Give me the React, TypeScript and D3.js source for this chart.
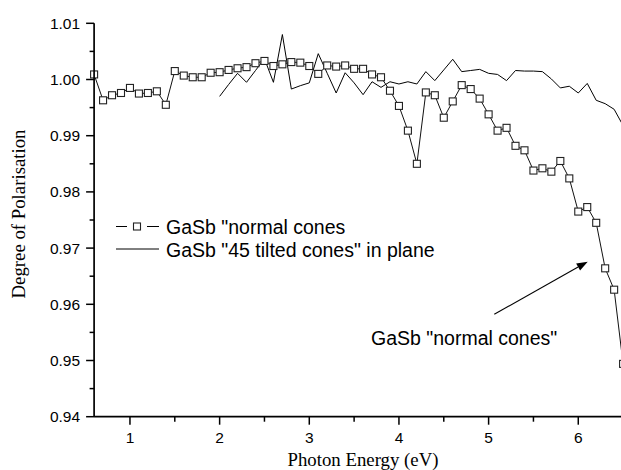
import React from "react";
import * as d3 from "d3";

const normalEnergy = [
  0.6, 0.7, 0.8, 0.9, 1.0, 1.1, 1.2, 1.3, 1.4, 1.5, 1.6, 1.7, 1.8, 1.9, 2.0, 2.1, 2.2, 2.3, 2.4, 2.5,
  2.6, 2.7, 2.8, 2.9, 3.0, 3.1, 3.2, 3.3, 3.4, 3.5, 3.6, 3.7, 3.8, 3.9, 4.0, 4.1, 4.2, 4.3, 4.4, 4.5,
  4.6, 4.7, 4.8, 4.9, 5.0, 5.1, 5.2, 5.3, 5.4, 5.5, 5.6, 5.7, 5.8, 5.9, 6.0, 6.1, 6.2, 6.3, 6.4, 6.5,
];
const normalCones = [
  1.0009, 0.9963, 0.9972, 0.9976, 0.9985, 0.9975, 0.9976, 0.9979, 0.9955, 1.0015,
  1.0007, 1.0004, 1.0004, 1.0012, 1.0013, 1.0017, 1.002, 1.0022, 1.0029, 1.0033,
  1.0024, 1.0027, 1.0031, 1.003, 1.0024, 1.001, 1.0025, 1.0023, 1.0025, 1.0019,
  1.0019, 1.0009, 1.0004, 0.998, 0.9953, 0.9909, 0.985, 0.9977, 0.9972, 0.9932,
  0.9961, 0.999, 0.9983, 0.9966, 0.9938, 0.9909, 0.9914, 0.9882, 0.9874, 0.9838,
  0.9842, 0.9836, 0.9855, 0.9824, 0.9765, 0.9773, 0.9745, 0.9664, 0.9626, 0.9494,
];

const tiltedEnergy = [
  2.0, 2.1, 2.2, 2.3, 2.4, 2.5, 2.6, 2.7, 2.8, 2.9, 3.0, 3.1, 3.2, 3.3, 3.4, 3.5, 3.6, 3.7, 3.8, 3.9,
  4.0, 4.1, 4.2, 4.3, 4.4, 4.5, 4.6, 4.7, 4.8, 4.9, 5.0, 5.1, 5.2, 5.3, 5.4, 5.5, 5.6, 5.7, 5.8, 5.9,
  6.0, 6.1, 6.2, 6.3, 6.4, 6.5,
];
const tiltedCones = [
  0.997, 0.9991, 1.0011, 0.9995, 1.0016, 1.0037, 0.9995, 1.008, 0.9983, 0.9989,
  0.9994, 1.0046, 1.0011, 0.9976, 1.0012, 0.9994, 0.9973, 0.9996, 0.9986, 0.9996,
  0.9992, 0.9996, 0.9992, 1.0014, 0.9998, 1.0017, 1.0036, 1.0014, 1.0016, 1.0018,
  1.0011, 1.0009, 0.9998, 1.0016, 1.0015, 1.0015, 1.0014, 1.0001, 0.9985, 0.9988,
  0.9976, 0.9993, 0.9963, 0.9957, 0.9947, 0.9918,
];

const xMajorTicks = [1, 2, 3, 4, 5, 6];
const xMinorTicks = [1.5, 2.5, 3.5, 4.5, 5.5];
const yMajorTicks = [0.94, 0.95, 0.96, 0.97, 0.98, 0.99, 1.0, 1.01];
const yMinorTicks = [0.945, 0.955, 0.965, 0.975, 0.985, 0.995, 1.005];

const legendLabels = ['GaSb "normal cones', 'GaSb "45 tilted cones" in plane'];
const annotationLabel = 'GaSb "normal cones"';
const xTitle = "Photon Energy (eV)";
const yTitle = "Degree of Polarisation";

const W = 621;
const H = 470;

export default function App() {
  const x = d3.scaleLinear().domain([0.6, 6.5]).range([94.1, 623.1]);
  const y = d3.scaleLinear().domain([0.94, 1.01]).range([416.7, 23.3]);

  const normalPts = normalEnergy.map((e, i) => [x(e), y(normalCones[i])] as [number, number]);
  const tiltedPts = tiltedEnergy.map((e, i) => [x(e), y(tiltedCones[i])] as [number, number]);
  const line = d3.line();

  const sans = "'Liberation Sans', Arial, sans-serif";
  const serif = "'Liberation Serif', 'Times New Roman', serif";
  const x0 = x(0.6);
  const yb = y(0.94);
  const sq = 7;

  const arrowFrom = [494.3, 314.3];
  const arrowTo = [587.7, 261.7];
  const ang = Math.atan2(arrowTo[1] - arrowFrom[1], arrowTo[0] - arrowFrom[0]);
  const ah = 11;
  const aw = 4;
  const bx = arrowTo[0] - ah * Math.cos(ang);
  const by = arrowTo[1] - ah * Math.sin(ang);
  const headPts = [
    [arrowTo[0], arrowTo[1]],
    [bx + aw * Math.sin(ang), by - aw * Math.cos(ang)],
    [bx - aw * Math.sin(ang), by + aw * Math.cos(ang)],
  ];

  return (
    <svg
      width={W}
      height={H}
      style={{ position: "absolute", left: 0, top: 0, display: "block", background: "#fff" }}
    >
      <rect x={0} y={0} width={W} height={H} fill="#fff" />
      <path d={line(tiltedPts) || ""} fill="none" stroke="#000" strokeWidth={1} />
      <path d={line(normalPts) || ""} fill="none" stroke="#111" strokeWidth={1} />
      {normalPts.map((p, i) => (
        <rect
          key={i}
          x={p[0] - sq / 2}
          y={p[1] - sq / 2}
          width={sq}
          height={sq}
          fill="#fff"
          stroke="#222"
          strokeWidth={1.1}
        />
      ))}

      <line x1={x0} y1={y(1.01)} x2={x0} y2={yb} stroke="#000" strokeWidth={1.7} />
      <line x1={x0} y1={yb} x2={W + 5} y2={yb} stroke="#000" strokeWidth={1.7} />
      {yMajorTicks.map((t) => (
        <g key={"ym" + t}>
          <line x1={x0 - 8} x2={x0} y1={y(t)} y2={y(t)} stroke="#000" strokeWidth={1.5} />
          <text x={x0 - 14} y={y(t) + 5.5} textAnchor="end" fontFamily={sans} fontSize={15.5} fill="#000">
            {t.toFixed(2)}
          </text>
        </g>
      ))}
      {yMinorTicks.map((t) => (
        <line key={"yn" + t} x1={x0 - 4.5} x2={x0} y1={y(t)} y2={y(t)} stroke="#000" strokeWidth={1.5} />
      ))}
      {xMajorTicks.map((t) => (
        <g key={"xm" + t}>
          <line x1={x(t)} x2={x(t)} y1={yb} y2={yb + 8} stroke="#000" strokeWidth={1.5} />
          <text x={x(t)} y={yb + 26} textAnchor="middle" fontFamily={sans} fontSize={15.5} fill="#000">
            {t}
          </text>
        </g>
      ))}
      {xMinorTicks.map((t) => (
        <line key={"xn" + t} x1={x(t)} x2={x(t)} y1={yb} y2={yb + 5} stroke="#000" strokeWidth={1.5} />
      ))}

      <text x={363} y={466} textAnchor="middle" fontFamily={serif} fontSize={18.8} fill="#000">
        {xTitle}
      </text>
      <text
        transform={`translate(25, 214) rotate(-90)`}
        textAnchor="middle"
        fontFamily={serif}
        fontSize={18.8}
        fill="#000"
      >
        {yTitle}
      </text>

      <line x1={116} x2={127} y1={226.5} y2={226.5} stroke="#000" strokeWidth={1} />
      <line x1={147} x2={159} y1={226.5} y2={226.5} stroke="#000" strokeWidth={1} />
      <rect x={137 - 3.5} y={226.5 - 3.5} width={7} height={7} fill="#fff" stroke="#222" strokeWidth={1.1} />
      <text x={166} y={234} fontFamily={sans} fontSize={19.5} fill="#000">
        {legendLabels[0]}
      </text>
      <line x1={116} x2={159} y1={249} y2={249} stroke="#000" strokeWidth={1} />
      <text x={166} y={257} fontFamily={sans} fontSize={19.5} fill="#000">
        {legendLabels[1]}
      </text>

      <line x1={arrowFrom[0]} y1={arrowFrom[1]} x2={bx} y2={by} stroke="#000" strokeWidth={1.1} />
      <polygon points={headPts.map((p) => p.join(",")).join(" ")} fill="#000" />
      <text x={371} y={345} fontFamily={sans} fontSize={19.5} fill="#000">
        {annotationLabel}
      </text>
    </svg>
  );
}
